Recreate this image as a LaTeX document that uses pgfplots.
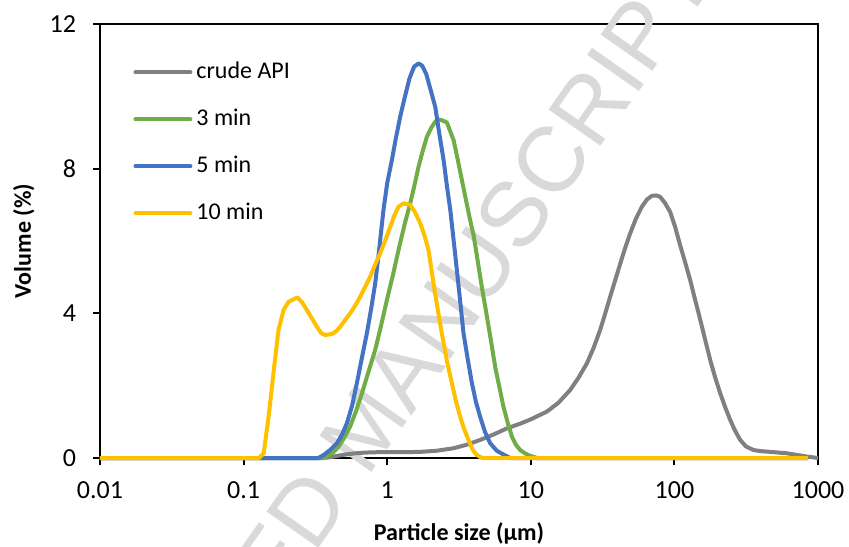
\documentclass[border=0pt]{standalone}
\usepackage{fontspec}
\setmainfont{Carlito}
\newfontfamily\wmfont{Liberation Sans}
\usepackage{pgfplots}
\pgfplotsset{compat=1.18}
\definecolor{cgray}{HTML}{808080}
\definecolor{cgreen}{HTML}{70AD47}
\definecolor{cblue}{HTML}{4472C4}
\definecolor{cyellow}{HTML}{FFC000}
\definecolor{wm}{HTML}{D9D9D9}
\begin{document}
\begin{tikzpicture}
\begin{axis}[
  scale only axis, width=359pt, height=217pt,
  xmode=log, xmin=0.01, xmax=1000, ymin=0, ymax=12,
  xtick={0.01,0.1,1,10,100,1000},
  xticklabels={0.01,0.1,1,10,100,1000},
  ytick={0,4,8,12},
  xminorticks=false,
  tick align=outside, tick pos=left,
  major tick length=3.5pt,
  tick style={black, line width=1pt},
  axis line style={black, line width=1pt},
  clip=false,
  /pgf/number format/assume math mode=true,
  ticklabel style={font=\fontsize{13}{15}\selectfont},
  xticklabel style={yshift=-5pt},
  yticklabel style={xshift=-5pt},
  xlabel={Particle size (µm)}, ylabel={Volume (\%)},
  label style={font=\fontsize{12}{14}\selectfont\bfseries},
  xlabel style={at={(axis description cs:0.5,-0.189)}, anchor=base},
  ylabel style={at={(axis description cs:-0.0961,0.5)}, anchor=base},
  legend cell align=left,
  legend image code/.code={\draw[#1, line cap=round] (0pt,0pt) -- (27.5pt,0pt);},
  legend style={at={(axis description cs:0.046,0.915)}, anchor=north west,
    draw=none, fill=none, inner sep=0pt, font=\fontsize{12}{14}\selectfont,
    row sep=12.5pt, nodes={inner sep=0pt, text height=8.5pt, text depth=2.5pt},
    /tikz/every odd column/.append style={column sep=2pt}},
  every axis plot/.append style={line width=2pt, line join=round},
]
\node[rotate=55, text=wm, font=\wmfont\fontsize{46}{55}\selectfont] at (axis cs:0.70,0.85) {ACCEPTED MANUSCRIPT};

\addplot[cgray] coordinates {
(0.01,0) (0.35,0) (0.40,0.02) (0.45,0.06) (0.52,0.10) (0.60,0.13) (0.70,0.15)
(0.85,0.16) (1.0,0.16) (1.3,0.16) (1.7,0.17) (2.2,0.20) (2.9,0.27) (3.6,0.37)
(4.44,0.50) (5.5,0.65) (6.83,0.82) (8.44,0.95) (10.0,1.07) (12.9,1.28) (15.5,1.52)
(18.8,1.88) (21.5,2.22) (24.6,2.62) (27.4,3.05) (30.4,3.54) (33.0,4.0) (35.7,4.46)
(38.8,4.93) (42.0,5.38) (45.5,5.82) (49.2,6.21) (54.0,6.62) (59.4,6.95) (64.5,7.15)
(69.7,7.25) (75.0,7.26) (79.6,7.22) (86.0,7.05) (93.5,6.80) (101,6.40) (109.7,5.88)
(119,5.40) (128.8,4.92) (139.5,4.37) (151.4,3.82) (164,3.26) (177.5,2.71) (192.5,2.22)
(208.5,1.79) (226,1.40) (244.8,1.05) (265,0.75) (287.1,0.50) (315,0.32) (355.6,0.22)
(400,0.19) (464.5,0.17) (530,0.15) (607,0.13) (700,0.09) (837,0.04) (1000,0)
};
\addlegendentry{crude API}

\addplot[cgreen] coordinates {
(0.01,0) (0.36,0) (0.38,0.04) (0.42,0.15) (0.458,0.31) (0.50,0.55) (0.552,0.87)
(0.607,1.30) (0.667,1.79) (0.74,2.38) (0.825,2.99) (0.905,3.65) (0.995,4.37)
(1.095,5.05) (1.199,5.75) (1.32,6.45) (1.446,7.04) (1.55,7.55) (1.652,8.05)
(1.77,8.50) (1.889,8.88) (2.02,9.12) (2.16,9.30) (2.28,9.36) (2.40,9.34) (2.60,9.28)
(2.90,8.79) (3.10,8.25) (3.31,7.69) (3.55,7.10) (3.78,6.58) (4.0,6.15) (4.21,5.6)
(4.55,4.75) (4.95,3.91) (5.30,3.20) (5.65,2.52) (6.05,1.95) (6.45,1.42) (6.90,0.98)
(7.39,0.59) (7.90,0.36) (8.44,0.22) (9.1,0.13) (9.9,0.06) (11.1,0) (850,0)
};
\addlegendentry{3 min}

\addplot[cblue] coordinates {
(0.01,0) (0.331,0) (0.36,0.08) (0.40,0.22) (0.447,0.41) (0.485,0.65) (0.524,0.96)
(0.57,1.45) (0.615,2.07) (0.665,2.75) (0.722,3.45) (0.775,4.15) (0.825,4.83)
(0.87,5.6) (0.942,6.86) (1.00,7.6) (1.078,8.24) (1.15,8.85) (1.232,9.44) (1.33,10.0)
(1.430,10.5) (1.54,10.82) (1.652,10.91) (1.75,10.85) (1.869,10.62) (2.0,10.2)
(2.16,9.71) (2.30,9.0) (2.47,8.24) (2.60,7.55) (2.75,6.86) (2.98,5.6) (3.20,4.45)
(3.40,3.45) (3.65,2.7) (3.89,2.07) (4.15,1.55) (4.44,1.14) (4.80,0.72) (5.21,0.41)
(5.8,0.20) (6.43,0.1) (7.19,0) (850,0)
};
\addlegendentry{5 min}

\addplot[cyellow] coordinates {
(0.01,0) (0.128,0) (0.138,0.13) (0.15,1.2) (0.162,2.4) (0.175,3.54) (0.19,4.1)
(0.206,4.32) (0.237,4.44) (0.256,4.3) (0.276,4.09) (0.30,3.85) (0.324,3.63)
(0.346,3.46) (0.370,3.40) (0.412,3.43) (0.44,3.5) (0.471,3.63) (0.51,3.82)
(0.552,4.0) (0.60,4.22) (0.649,4.46) (0.70,4.72) (0.761,5.01) (0.82,5.33)
(0.894,5.66) (0.97,6.02) (1.049,6.39) (1.12,6.7) (1.199,6.95) (1.299,7.04)
(1.446,7.00) (1.56,6.80) (1.698,6.49) (1.82,6.15) (1.94,5.75) (2.10,4.83)
(2.25,4.1) (2.40,3.45) (2.60,2.7) (2.82,2.07) (3.02,1.55) (3.22,1.14) (3.45,0.78)
(3.68,0.5) (3.95,0.22) (4.21,0.08) (4.6,0) (850,0)
};
\addlegendentry{10 min}
\end{axis}
\pgfresetboundingbox
\path[use as bounding box] ([xshift=-50pt,yshift=-44pt]current axis.south west) rectangle ([xshift=15.5pt,yshift=12pt]current axis.north east);
\end{tikzpicture}
\end{document}
